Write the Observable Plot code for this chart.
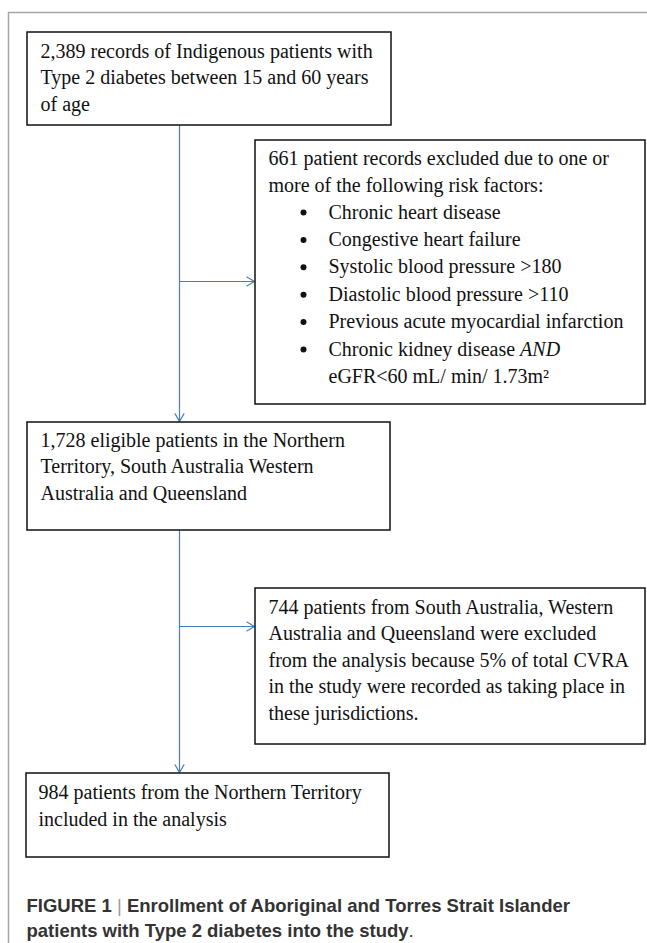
<!DOCTYPE html>
<html>
<head>
<meta charset="utf-8">
<script src="https://cdn.jsdelivr.net/npm/d3@7"></script>
<script src="https://cdn.jsdelivr.net/npm/@observablehq/plot@0.6"></script>
<style>
  html, body { margin: 0; padding: 0; background: #fff; }
  #chart svg { display: block; }
</style>
</head>
<body>
<div id="chart"></div>
<script>
// ---- Data (texts and counts of the enrollment flow) ----
const stepCounts = ["2,389", "661", "1,728", "744", "984"];
const startLines = [
  "2,389 records of Indigenous patients with",
  "Type 2 diabetes between 15 and 60 years",
  "of age"
];
const exclusion1Header = [
  "661 patient records excluded due to one or",
  "more of the following risk factors:"
];
const riskFactors = [
  "Chronic heart disease",
  "Congestive heart failure",
  "Systolic blood pressure >180",
  "Diastolic blood pressure >110",
  "Previous acute myocardial infarction",
  "Chronic kidney disease"
];
const riskItalicWord = "AND";
const riskContinuation = "eGFR<60 mL/ min/ 1.73m\u00B2";
const eligibleLines = [
  "1,728 eligible patients in the Northern",
  "Territory, South Australia Western",
  "Australia and Queensland"
];
const exclusion2Lines = [
  "744 patients from South Australia, Western",
  "Australia and Queensland were excluded",
  "from the analysis because 5% of total CVRA",
  "in the study were recorded as taking place in",
  "these jurisdictions."
];
const finalLines = [
  "984 patients from the Northern Territory",
  "included in the analysis"
];
const captionLabel = "FIGURE 1";
const captionSeparator = "|";
const captionLine1 = "Enrollment of Aboriginal and Torres Strait Islander";
const captionLine2 = "patients with Type 2 diabetes into the study";
const captionEnd = ".";

// ---- Layout (page pixel frame) ----
const W = 647, H = 943;
const serif = "Liberation Serif, Times New Roman, serif";
const sans = "Liberation Sans, Arial, Helvetica, sans-serif";
const FS = 20, CFS = 18.5;

const boxes = [
  {x1: 27,  y1: 32,  x2: 391, y2: 125},
  {x1: 255, y1: 140, x2: 645, y2: 404},
  {x1: 27,  y1: 422, x2: 390, y2: 530},
  {x1: 255, y1: 588, x2: 645, y2: 744},
  {x1: 26,  y1: 773, x2: 389, y2: 857}
];
const arrows = [
  {x1: 179, y1: 125, x2: 179, y2: 421},
  {x1: 179, y1: 281, x2: 254, y2: 281},
  {x1: 179, y1: 530, x2: 179, y2: 772},
  {x1: 179, y1: 626, x2: 254, y2: 626}
];

function measure(text, font) {
  const c = measure.c || (measure.c = document.createElement("canvas").getContext("2d"));
  c.font = font;
  return c.measureText(text).width;
}

function block(lines, x, y0, lh) {
  return lines.map((t, i) => ({x, y: y0 + i * lh, text: t}));
}

const plainText = [
  ...block(startLines, 40, 57, 26.6),
  ...block(exclusion1Header, 268, 164, 27.4),
  ...block(eligibleLines, 40, 446, 26.6),
  ...block(exclusion2Lines, 268, 613, 26.6),
  ...block(finalLines, 38, 798, 27)
];
const bulletText = [
  ...block(riskFactors, 328, 218, 27.4),
  {x: 328, y: 218 + 6 * 27.4, text: riskContinuation}
];
const bullets = riskFactors.map((t, i) => ({x: 303, y: 218 + i * 27.4 - 6}));
const lastRiskWidth = measure(riskFactors[riskFactors.length - 1] + " ", `${FS}px ${serif}`);
const italicText = [{x: 328 + lastRiskWidth, y: 218 + 5 * 27.4, text: riskItalicWord}];

const boldFont = `bold ${CFS}px ${sans}`;
const capX = 26, capY1 = 911, capY2 = 936;
const labelW = measure(captionLabel + " ", boldFont);
const sepW = measure(captionSeparator + " ", `${CFS}px ${sans}`);
const line2W = measure(captionLine2, boldFont);
const captionBold = [
  {x: capX, y: capY1, text: captionLabel},
  {x: capX + labelW + sepW, y: capY1, text: captionLine1},
  {x: capX, y: capY2, text: captionLine2}
];
const captionThin = [
  {x: capX + labelW, y: capY1, text: captionSeparator, fill: "#999"},
  {x: capX + line2W, y: capY2, text: captionEnd, fill: "#333"}
];

const chart = Plot.plot({
  width: W,
  height: H,
  margin: 0,
  x: {domain: [0, W], range: [0, W], axis: null},
  y: {domain: [0, H], range: [0, H], axis: null},
  marks: [
    Plot.ruleY([12], {x1: 8, x2: W, stroke: "#a6a6a6", strokeWidth: 1.5}),
    Plot.ruleX([8], {y1: 12, y2: H, stroke: "#a6a6a6", strokeWidth: 1.5}),
    Plot.arrow(arrows, {x1: "x1", y1: "y1", x2: "x2", y2: "y2", stroke: "#4a7ebb", strokeWidth: 1.2, headLength: 11, headAngle: 60}),
    Plot.rect(boxes, {x1: "x1", y1: "y1", x2: "x2", y2: "y2", fill: "none", stroke: "#111", strokeWidth: 1.5}),
    Plot.text(plainText, {x: "x", y: "y", text: "text", textAnchor: "start", lineAnchor: "bottom", fontFamily: serif, fontSize: FS, fill: "#111"}),
    Plot.text(bulletText, {x: "x", y: "y", text: "text", textAnchor: "start", lineAnchor: "bottom", fontFamily: serif, fontSize: FS, fill: "#111"}),
    Plot.text(italicText, {x: "x", y: "y", text: "text", textAnchor: "start", lineAnchor: "bottom", fontFamily: serif, fontStyle: "italic", fontSize: FS, fill: "#111"}),
    Plot.dot(bullets, {x: "x", y: "y", r: 3, fill: "#111", stroke: null}),
    Plot.text(captionBold, {x: "x", y: "y", text: "text", textAnchor: "start", lineAnchor: "bottom", fontFamily: sans, fontWeight: "bold", fontSize: CFS, fill: "#333"}),
    Plot.text(captionThin, {x: "x", y: "y", text: "text", textAnchor: "start", lineAnchor: "bottom", fontFamily: sans, fontSize: CFS, fill: d => d.fill})
  ]
});
chart.setAttribute("font-family", serif);
document.getElementById("chart").appendChild(chart);
</script>
</body>
</html>
